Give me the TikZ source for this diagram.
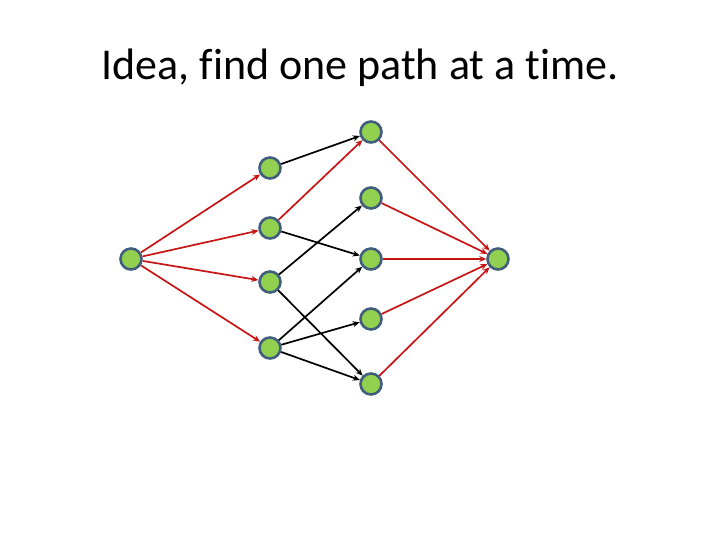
\documentclass[tikz,border=0pt]{standalone}
\usepackage{fontspec}
\setmainfont[Ligatures=NoCommon]{Carlito}
\usepackage{xcolor}
\usetikzlibrary{arrows.meta,positioning}
\definecolor{nodegreen}{RGB}{146,208,80}
\definecolor{nodeedge}{RGB}{65,95,125}
\definecolor{pathred}{RGB}{200,20,20}
\tikzset{
    % vertex of the graph
    vnode/.style = {draw=nodeedge, fill=nodegreen, line width=2.6pt, circle, minimum size=21pt, inner sep=0},
    % plain edge
    fedge/.style = {draw, line width=1.7pt, -{Stealth[length=7pt,width=6pt]}},
    % edge on the chosen path
    pedge/.style = {fedge, pathred}
  }
\begin{document}
\begin{tikzpicture}[x=1pt, y=-1pt]
\useasboundingbox (0,0) rectangle (720,540);

\node [font=\fontsize{44}{52}\selectfont] (T) at (360,68) {Idea, find one path at a time.};

\node [vnode] (S) at (131,259) {};
\node [vnode] (D) at (498,259) {};

\foreach \i/\y in {1/168,2/228,3/282,4/348}
  \node [vnode] (A\i) at (270,\y) {};
\foreach \i/\y in {1/132,2/198,3/259,4/319,5/384}
  \node [vnode] (B\i) at (371,\y) {};

\foreach \i in {1,2,3,4}
  \draw [pedge] (S) -- (A\i);
\foreach \i in {1,2,3,4,5}
  \draw [pedge] (B\i) -- (D);

\draw [pedge] (A2) -- (B1);
\foreach \a/\b in {1/1,2/3,3/2,3/5,4/3,4/4,4/5}
  \draw [fedge] (A\a) -- (B\b);

\end{tikzpicture}
\end{document}
